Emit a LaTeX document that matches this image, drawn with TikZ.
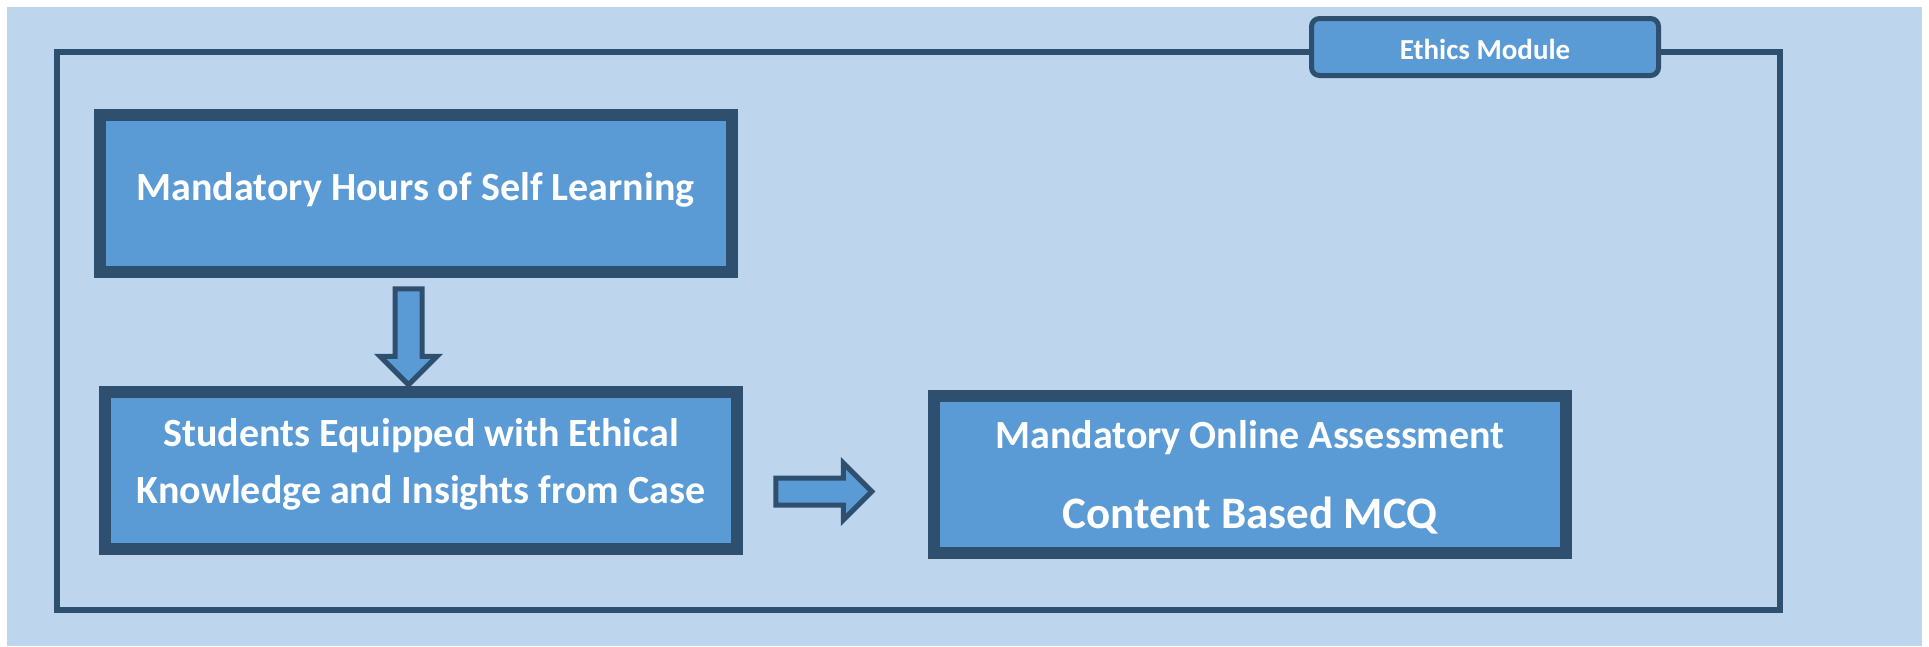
\documentclass[tikz,border=0pt]{standalone}
\usepackage{fontspec}
\setmainfont{Carlito}
\usetikzlibrary{shapes.arrows}
\definecolor{paleblue}{RGB}{190,214,237}
\definecolor{boxblue}{RGB}{91,155,213}
\definecolor{darkblue}{RGB}{46,79,110}
\tikzset{
    stage/.style = {draw = darkblue, fill = boxblue, line width = 12pt,
                    minimum width = 632pt, minimum height = 157pt, inner sep = 0pt},
    caption/.style = {text = white, align = center, inner sep = 0pt,
                    font = \bfseries\fontsize{40}{57}\selectfont},
    blockarrow/.style = {single arrow, draw = darkblue, fill = boxblue, line width = 5pt,
                    inner xsep = 0pt, inner ysep = 11pt, single arrow head extend = 15pt,
                    single arrow tip angle = 90, minimum height = 96pt}
}
\begin{document}
\begin{tikzpicture}[x = 1pt, y = -1pt]
    \useasboundingbox (0,0) rectangle (1929,646);
    \fill [paleblue] (7,7) rectangle (1922,646);
    \draw [darkblue, line width = 6pt] (57,52) rectangle (1780,610);
    \node [draw = darkblue, fill = boxblue, line width = 5pt, rounded corners = 8pt,
           minimum width = 347pt, minimum height = 57pt] (module) at (1485,47) {};
    \node [caption, font = \bfseries\fontsize{29}{35}\selectfont, yshift = -2pt]
          (module-text) at (module) {Ethics Module};
    \node [stage] (hours)    at (415.5,193.5) {};
    \node [stage] (students) at (421,470.5)   {};
    \node [stage] (exam)     at (1250,474.5)  {};
    \node [caption, yshift = 3.5pt] (hours-text) at (hours) {Mandatory Hours of Self Learning};
    \node [caption, yshift = 6pt] (students-text) at (students)
          {Students Equipped with Ethical\\Knowledge and Insights from Case};
    \node [caption, font = \bfseries\fontsize{40}{80}\selectfont, yshift = -3pt] (exam-text) at (exam)
          {Mandatory Online Assessment\\{\fontsize{45}{80}\selectfont Content Based MCQ}};
    \node [blockarrow, rotate = -90] (down)  at (408.5,330) {};
    \node [blockarrow]               (right) at (817,491.5) {};
\end{tikzpicture}
\end{document}
